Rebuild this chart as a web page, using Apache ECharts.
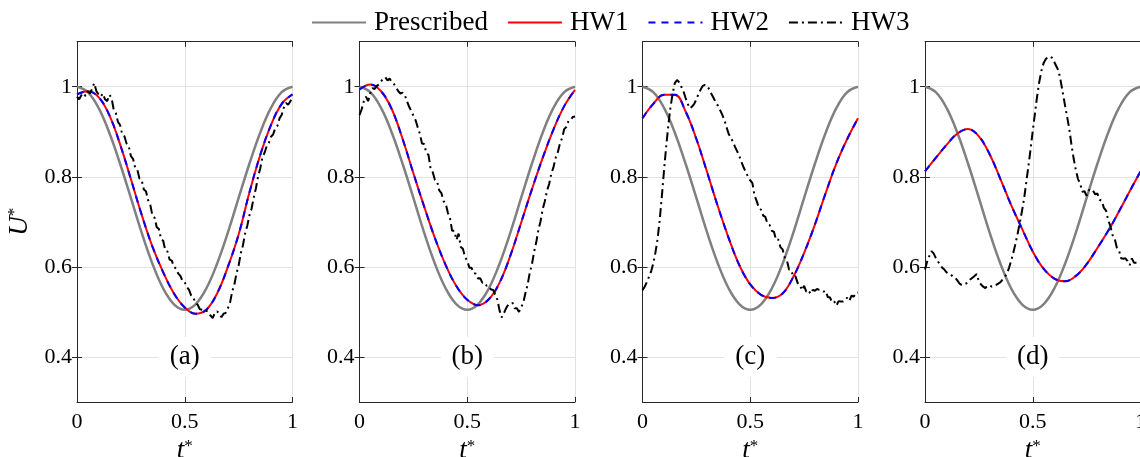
<!DOCTYPE html>
<html><head><meta charset="utf-8">
<script src="https://cdn.jsdelivr.net/npm/echarts@6/dist/echarts.min.js"></script>
<style>html,body{margin:0;padding:0;background:#fff}#c{width:1140px;height:457px}</style>
</head><body><div id="c"></div>
<script>
// ---- data ----
const tCoarse = [0,0.05,0.1,0.15,0.2,0.25,0.3,0.35,0.4,0.45,0.5,0.55,0.6,0.65,0.7,0.75,0.8,0.85,0.9,0.95,1];
const prescribed = [1.000,0.988,0.953,0.898,0.829,0.753,0.676,0.607,0.552,0.517,0.505,0.517,0.552,0.607,0.676,0.753,0.829,0.898,0.953,0.988,1.000];
const hw1a = [0.983,0.990,0.977,0.937,0.872,0.795,0.716,0.645,0.588,0.541,0.510,0.496,0.505,0.541,0.600,0.672,0.765,0.848,0.915,0.962,0.983];
const hw1b = [0.994,1.005,0.990,0.950,0.884,0.808,0.734,0.664,0.604,0.557,0.527,0.515,0.528,0.565,0.625,0.698,0.772,0.842,0.905,0.957,0.993];
const hw1c = [0.930,0.962,0.982,0.982,0.945,0.884,0.810,0.734,0.664,0.603,0.561,0.538,0.531,0.541,0.578,0.631,0.694,0.764,0.830,0.884,0.930];
const hw1d = [0.812,0.842,0.871,0.896,0.906,0.890,0.850,0.795,0.737,0.685,0.634,0.596,0.574,0.568,0.580,0.606,0.642,0.680,0.723,0.768,0.812];
// HW2 coincides with HW1 in every panel
const hw2a = hw1a.slice();
const hw2b = hw1b.slice();
const hw2c = hw1c.slice();
const hw2d = hw1d.slice();
// HW3 sampled every 0.01 in t*
const hw3a = [0.978,0.972,0.981,0.986,0.979,0.990,0.985,0.995,1.008,0.990,0.983,0.978,0.985,0.972,0.968,0.982,0.976,0.950,0.942,0.922,
0.915,0.894,0.890,0.874,0.868,0.846,0.840,0.820,0.816,0.796,0.793,0.772,0.768,0.748,0.738,0.714,0.709,0.688,0.684,0.662,
0.658,0.636,0.634,0.616,0.614,0.600,0.596,0.585,0.580,0.568,0.566,0.555,0.549,0.536,0.532,0.519,0.516,0.506,0.505,0.504,
0.504,0.495,0.492,0.486,0.499,0.501,0.497,0.488,0.496,0.498,0.508,0.520,0.545,0.560,0.585,0.603,0.630,0.648,0.674,0.691,
0.714,0.729,0.754,0.774,0.800,0.818,0.842,0.853,0.868,0.875,0.889,0.894,0.908,0.913,0.930,0.938,0.954,0.964,0.960,0.968,0.974];
const hw3b = [0.937,0.950,0.968,0.978,0.968,0.985,0.997,0.995,1.002,1.005,1.012,1.018,1.021,1.014,1.018,1.010,1.006,0.998,0.990,0.985,
0.987,0.982,0.968,0.956,0.946,0.936,0.926,0.910,0.896,0.874,0.873,0.853,0.849,0.818,0.810,0.793,0.790,0.770,0.764,0.746,
0.741,0.720,0.707,0.680,0.680,0.660,0.674,0.644,0.640,0.621,0.614,0.598,0.598,0.586,0.585,0.574,0.575,0.565,0.565,0.558,
0.558,0.550,0.549,0.538,0.527,0.503,0.488,0.497,0.508,0.516,0.518,0.520,0.508,0.508,0.500,0.510,0.520,0.542,0.560,0.587,
0.605,0.633,0.654,0.682,0.701,0.728,0.746,0.769,0.784,0.807,0.821,0.842,0.854,0.874,0.886,0.906,0.911,0.924,0.926,0.933,0.934];
const hw3c = [0.548,0.556,0.566,0.578,0.590,0.608,0.632,0.662,0.705,0.758,0.815,0.868,0.915,0.955,0.985,1.008,1.015,1.010,1.000,0.990,
0.975,0.962,0.952,0.956,0.962,0.972,0.984,0.994,1.002,1.004,1.002,0.994,0.984,0.975,0.965,0.958,0.948,0.938,0.926,0.910,
0.895,0.887,0.877,0.866,0.856,0.845,0.832,0.820,0.810,0.800,0.792,0.786,0.758,0.746,0.731,0.727,0.714,0.711,0.696,0.693,
0.680,0.678,0.660,0.661,0.644,0.639,0.621,0.615,0.594,0.593,0.578,0.579,0.564,0.561,0.548,0.558,0.545,0.548,0.540,0.549,
0.547,0.551,0.549,0.548,0.545,0.547,0.533,0.532,0.521,0.523,0.514,0.524,0.523,0.523,0.525,0.532,0.525,0.536,0.534,0.542,0.543];
const hw3d = [0.594,0.612,0.624,0.635,0.630,0.620,0.612,0.605,0.598,0.594,0.588,0.585,0.583,0.578,0.576,0.570,0.563,0.560,0.561,0.563,
0.566,0.572,0.576,0.580,0.584,0.568,0.561,0.556,0.553,0.558,0.559,0.556,0.558,0.560,0.563,0.566,0.572,0.578,0.585,0.598,
0.614,0.632,0.652,0.674,0.698,0.724,0.752,0.788,0.824,0.862,0.902,0.940,0.978,1.010,1.035,1.052,1.061,1.066,1.067,1.064,
1.055,1.045,1.035,1.012,0.985,0.958,0.932,0.905,0.870,0.840,0.815,0.795,0.785,0.767,0.768,0.758,0.771,0.767,0.769,0.761,
0.763,0.749,0.747,0.731,0.725,0.704,0.691,0.671,0.663,0.643,0.637,0.619,0.618,0.619,0.613,0.604,0.619,0.609,0.609,0.609,0.608];
const tFine = hw3a.map((_, i) => i / 100);
const xTicks = [0, 0.5, 1];
const yTicks = [0.4, 0.6, 0.8, 1];
const panelNames = ['(a)', '(b)', '(c)', '(d)'];
const seriesNames = ['Prescribed', 'HW1', 'HW2', 'HW3'];

// ---- layout & style ----
const FONT = "'Liberation Serif', 'Times New Roman', Times, 'DejaVu Serif', serif";
const panelLefts = [77, 359.5, 642.5, 925];
const GTOP = 41.7, GW = 215.5, GH = 360.3;
const FRAME = '#262626', GRID = '#e2e2e2';

const panels = [
  {hw1: hw1a, hw2: hw2a, hw3: hw3a},
  {hw1: hw1b, hw2: hw2b, hw3: hw3b},
  {hw1: hw1c, hw2: hw2c, hw3: hw3c},
  {hw1: hw1d, hw2: hw2d, hw3: hw3d}
];
const zip = (xs, ys) => xs.map((x, i) => [x, ys[i]]);

const grids = panelLefts.map(l => ({left: l, top: GTOP, width: GW, height: GH, outerBoundsMode: 'none', containLabel: false}));
const richName = {
  i: {fontSize: 27, fontStyle: 'italic', fontFamily: FONT, color: '#000'},
  s: {fontSize: 17, fontFamily: FONT, color: '#000', verticalAlign: 'top'}
};
const xAxes = [], yAxes = [];
panelLefts.forEach((_, p) => {
  xAxes.push({
    gridIndex: p, type: 'value', min: 0, max: 1, interval: 0.5,
    axisLine: {show: true, lineStyle: {color: FRAME, width: 1}},
    axisTick: {show: true, inside: true, length: 5, customValues: xTicks, lineStyle: {color: FRAME}},
    axisLabel: {fontSize: 22, fontFamily: FONT, color: '#000', margin: 9, customValues: xTicks, formatter: v => String(v)},
    splitLine: {show: true, lineStyle: {color: GRID, width: 1}},
    name: '{i|t}{s|*}', nameLocation: 'middle', nameGap: 28, nameTextStyle: {rich: richName}
  });
});
panelLefts.forEach((_, p) => {
  xAxes.push({
    gridIndex: p, type: 'value', position: 'top', min: 0, max: 1, interval: 0.5,
    axisLine: {show: true, lineStyle: {color: FRAME, width: 1}},
    axisTick: {show: true, inside: true, length: 5, lineStyle: {color: FRAME}},
    axisLabel: {show: false}, splitLine: {show: false}
  });
});
panelLefts.forEach((_, p) => {
  const ax = {
    gridIndex: p, type: 'value', min: 0.3, max: 1.1,
    axisLine: {show: true, lineStyle: {color: FRAME, width: 1}},
    axisTick: {show: true, inside: true, length: 5, customValues: yTicks, lineStyle: {color: FRAME}},
    axisLabel: {fontSize: 22, fontFamily: FONT, color: '#000', margin: 5, customValues: yTicks, formatter: v => String(v)},
    splitLine: {show: true, lineStyle: {color: GRID, width: 1}}
  };
  if (p === 0) {
    ax.name = '{i|U}{s|*}';
    ax.nameLocation = 'middle';
    ax.nameGap = 44;
    ax.nameRotate = 90;
    ax.nameTextStyle = {rich: richName};
  }
  yAxes.push(ax);
});
panelLefts.forEach((_, p) => {
  yAxes.push({
    gridIndex: p, type: 'value', position: 'right', min: 0.3, max: 1.1,
    axisLine: {show: true, lineStyle: {color: FRAME, width: 1}},
    axisTick: {show: true, inside: true, length: 5, customValues: yTicks, lineStyle: {color: FRAME}},
    axisLabel: {show: false}, splitLine: {show: false}
  });
});

const series = [];
panels.forEach((pd, p) => {
  series.push({
    type: 'line', name: seriesNames[0], xAxisIndex: p, yAxisIndex: p,
    data: zip(tCoarse, prescribed), smooth: 0.4, symbol: 'none',
    lineStyle: {color: '#808080', width: 2.5}, itemStyle: {color: '#808080'},
    markPoint: {
      silent: true, animation: false, symbol: 'rect', symbolSize: [53, 40],
      itemStyle: {color: '#fff'},
      label: {show: true, position: 'inside', formatter: panelNames[p], fontSize: 27, fontFamily: FONT, color: '#000'},
      data: [{coord: [0.5, 0.4]}]
    }
  });
  series.push({
    type: 'line', name: seriesNames[1], xAxisIndex: p, yAxisIndex: p,
    data: zip(tCoarse, pd.hw1), smooth: 0.4, symbol: 'none',
    lineStyle: {color: '#ff0000', width: 2}, itemStyle: {color: '#ff0000'}
  });
  series.push({
    type: 'line', name: seriesNames[2], xAxisIndex: p, yAxisIndex: p,
    data: zip(tCoarse, pd.hw2), smooth: 0.4, symbol: 'none',
    lineStyle: {color: '#0000ff', width: 2, type: [7, 6]}, itemStyle: {color: '#0000ff'}
  });
  series.push({
    type: 'line', name: seriesNames[3], xAxisIndex: p, yAxisIndex: p,
    data: zip(tFine, pd.hw3), symbol: 'none',
    lineStyle: {color: '#000000', width: 2, type: [9, 4, 2, 4]}, itemStyle: {color: '#000000'}
  });
});

const chart = echarts.init(document.getElementById('c'), null, {renderer: 'canvas'});
chart.setOption({
  animation: false,
  backgroundColor: '#fff',
  legend: {
    data: seriesNames, left: 311, top: 9, padding: 0, itemWidth: 54, itemHeight: 14, itemGap: 19,
    itemStyle: {opacity: 0},
    textStyle: {fontSize: 27, fontFamily: FONT, color: '#000', padding: [0, 0, 0, 3]}
  },
  grid: grids, xAxis: xAxes, yAxis: yAxes, series: series
});
</script></body></html>
